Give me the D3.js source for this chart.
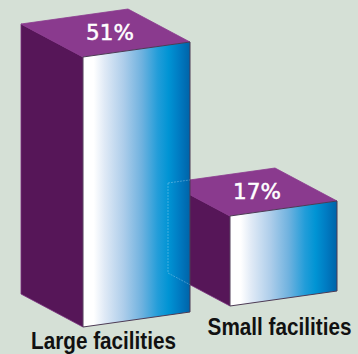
<!DOCTYPE html>
<html>
<head>
<meta charset="utf-8">
<script src="https://cdn.jsdelivr.net/npm/d3@7"></script>
<style>
  html, body { margin: 0; padding: 0; background: #d5e0d6; }
  svg { display: block; }
</style>
</head>
<body>
<svg id="chart"></svg>
<script>
const categories = ["Large facilities", "Small facilities"];
const values = [51, 17];
const valueLabels = ["51%", "17%"];

const width = 358, height = 354;
const svg = d3.select("#chart").attr("width", width).attr("height", height);

// oblique box geometry
const W = [107, -15];   // front face width vector
const D = [-62, -33];   // depth vector (towards back-left)

// where each box's front bottom-left corner sits
const xPos = d3.scalePoint().domain(categories).range([83, 230]);
const baseY = d3.scaleLinear().domain([83, 230]).range([327, 306]);
const hScale = d3.scaleLinear().domain([0, 51]).range([0, 270]);

const add = (p, v, k = 1) => [p[0] + v[0] * k, p[1] + v[1] * k];
const pts = arr => arr.map(p => p.join(",")).join(" ");

const defs = svg.append("defs");
const grad = defs.append("linearGradient").attr("id", "front").attr("x1", 0).attr("x2", 1).attr("y1", 0).attr("y2", 0);
[[0, "#ffffff"], [0.1, "#ffffff"], [0.2, "#e0eaf6"], [0.38, "#adcdea"], [0.55, "#6fb2df"],
 [0.7, "#229dd9"], [0.8, "#0094d4"], [0.9, "#007bc2"], [1, "#0063a8"]]
  .forEach(([o, c]) => grad.append("stop").attr("offset", o).attr("stop-color", c));

const boxes = categories.map((c, i) => {
  const x0 = xPos(c);
  const p0 = [x0, baseY(x0)];
  const H = [0, -hScale(values[i])];
  const p1 = add(p0, W), pH = add(p0, H), p1H = add(p1, H);
  return {
    cat: c, value: values[i], label: valueLabels[i],
    front: [p0, p1, p1H, pH],
    side: [p0, pH, add(pH, D), add(p0, D)],
    top: [pH, p1H, add(p1H, D), add(pH, D)],
    hidden: [add(pH, D), add(p0, D)]
  };
});

// draw the small (back) box first so the large one covers it
const order = boxes.slice().reverse();
const g = svg.append("g");
order.forEach(b => {
  const bg = g.append("g");
  bg.append("polygon").attr("points", pts(b.side)).attr("fill", "#561658")
    .attr("stroke", "#7a2f7e").attr("stroke-width", 0.8);
  bg.append("polygon").attr("points", pts(b.top)).attr("fill", "#8a3a8e")
    .attr("stroke", "#8a3a8e").attr("stroke-width", 0.8);
  bg.append("polygon").attr("points", pts(b.front)).attr("fill", "url(#front)")
    .attr("stroke", "#4d3b55").attr("stroke-width", 1);
});

// faint hidden edges of the small box seen through the large one
const big = boxes[0], small = boxes[1];
defs.append("clipPath").attr("id", "bigFront")
  .append("polygon").attr("points", pts(big.front));
const ghost = svg.append("g").attr("clip-path", "url(#bigFront)");
const bl = small.hidden[1], tl = small.hidden[0];
[[tl, add(tl, W)], [tl, bl], [bl, small.front[0]]].forEach(([a, b]) => {
  ghost.append("line")
    .attr("x1", a[0]).attr("y1", a[1]).attr("x2", b[0]).attr("y2", b[1])
    .attr("stroke", "#bfe0f4").attr("stroke-opacity", 0.35)
    .attr("stroke-width", 1).attr("stroke-dasharray", "2,1");
});

// value labels on top faces
svg.selectAll("text.val").data(boxes).enter().append("text")
  .attr("class", "val")
  .attr("x", d => d3.mean(d.top, p => p[0]) + 4.5)
  .attr("y", d => d3.mean(d.top, p => p[1]) + 7)
  .attr("text-anchor", "middle")
  .attr("font-family", "'DejaVu Sans', sans-serif")
  .attr("font-size", 21.5)
  .attr("fill", "#ffffff")
  .attr("stroke", "#ffffff")
  .attr("stroke-width", 0.5)
  .text(d => d.label);

// category labels, squeezed horizontally like a condensed face
const catPos = [[103.5, 348.5], [279.5, 334.5]];
svg.selectAll("text.cat").data(boxes).enter().append("text")
  .attr("class", "cat")
  .attr("transform", (d, i) => `translate(${catPos[i][0]},${catPos[i][1]}) scale(0.9,1)`)
  .attr("text-anchor", "middle")
  .attr("font-family", "'Liberation Sans', Arial, sans-serif")
  .attr("font-weight", "bold")
  .attr("font-size", 23)
  .attr("fill", "#111111")
  .text(d => d.cat);
</script>
</body>
</html>
